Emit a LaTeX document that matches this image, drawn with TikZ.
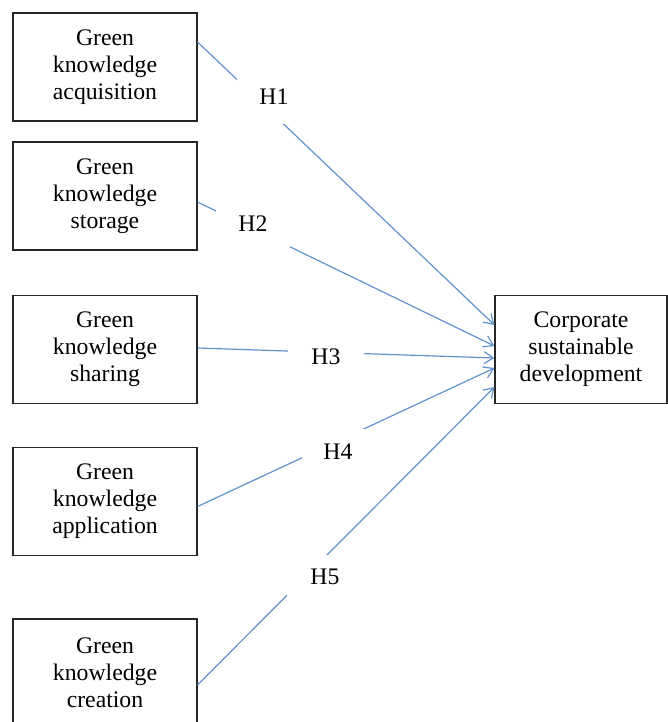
\documentclass[tikz,border=0pt]{standalone}
\usepackage{fontspec}
\setmainfont{Liberation Serif}
\usetikzlibrary{arrows.meta, calc}
\definecolor{linkblue}{RGB}{96,146,206}
\tikzset{
    box/.style={draw=black!85, line width=0.8pt, minimum width=138pt, minimum height=81pt, inner sep=0pt, align=center, font=\fontsize{17.8}{20.25}\selectfont},
    link/.style={draw=linkblue, line width=0.9pt, -{Straight Barb[length=7pt, width=9pt]}},
    hyp/.style={fill=white, inner sep=0pt, font=\fontsize{17.8}{20.25}\selectfont}
}
\begin{document}
\begin{tikzpicture}[x=0.75pt, y=-0.75pt]
    \useasboundingbox (0,0) rectangle (668,722);
    % factors on the left
    \node[box] (acq) at (105,67) {Green\\knowledge\\acquisition};
    \node[box] (sto) at (105,196) {Green\\knowledge\\storage};
    \node[box] (sha) at (105,349.5) {Green\\knowledge\\sharing};
    \node[box] (app) at (105,501.5) {Green\\knowledge\\application};
    \node[box] (cre) at (105,673) {Green\\knowledge\\creation};
    % outcome
    \node[box, minimum width=129pt] (csd) at (581,349.5) {Corporate\\sustainable\\development};
    % hypotheses
    \draw[link] ($(acq.east)+(0,-25)$) -- ($(csd.west)+(0,-24.5)$);
    \draw[link] ($(sto.east)+(0,6)$) -- ($(csd.west)+(0,-3.5)$);
    \draw[link] ($(sha.east)+(0,-1.5)$) -- ($(csd.west)+(0,8.5)$);
    \draw[link] ($(app.east)+(0,5)$) -- ($(csd.west)+(0,18.5)$);
    \draw[link] ($(cre.east)+(0,12)$) -- ($(csd.west)+(0,37.5)$);
    \node[hyp, minimum width=55.5pt, minimum height=40.5pt] (h1) at (274,97) {H1};
    \node[hyp, minimum width=55.5pt, minimum height=36pt] (h2) at (253,224) {H2};
    \node[hyp, minimum width=57pt, minimum height=22.5pt] (h3) at (326,357) {H3};
    \node[hyp, minimum width=54pt, minimum height=34.5pt] (h4) at (338,452) {H4};
    \node[hyp, minimum width=57pt, minimum height=33pt] (h5) at (325,577) {H5};
\end{tikzpicture}
\end{document}
